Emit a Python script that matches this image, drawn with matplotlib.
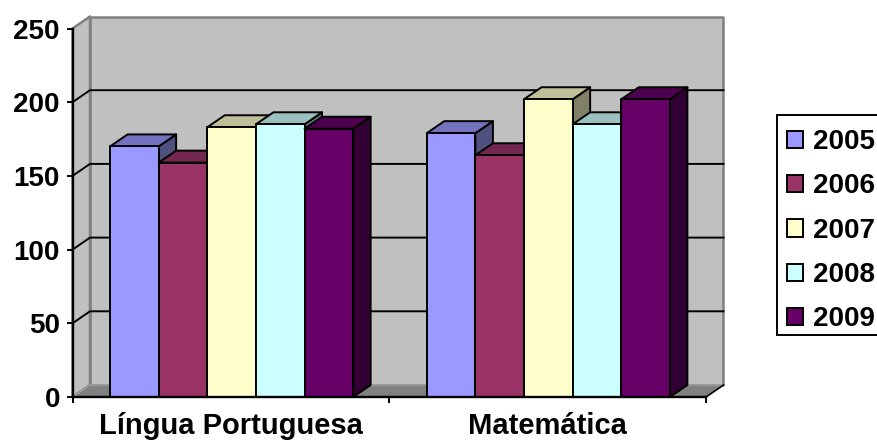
import matplotlib
matplotlib.use("Agg")
import matplotlib.pyplot as plt
from matplotlib.patches import Patch, Polygon, Rectangle

plt.rcParams["font.family"] = "Liberation Sans"
plt.rcParams["font.weight"] = "bold"

### data
categories = ["Língua Portuguesa", "Matemática"]
years = ["2005", "2006", "2007", "2008", "2009"]
portugues = [170, 159, 183, 185, 182]
matematica = [179, 164, 202, 185, 202]
yticks = [0, 50, 100, 150, 200, 250]

front = ["#9999FF", "#993366", "#FFFFCC", "#CCFFFF", "#660066"]
top = ["#7373BF", "#732650", "#BFBF99", "#99BFBF", "#4D004D"]
side = ["#515180", "#4D1933", "#808066", "#668080", "#330033"]

W, H = 877, 441
fig = plt.figure(figsize=(W / 100, H / 100), dpi=100, facecolor="white")
ax = fig.add_axes([72.5 / W, (H - 397) / H, 633.5 / W, 368.5 / H])
ax.set_xlim(0, 2)
ax.set_ylim(0, 250)
ax.patch.set_visible(False)

# depth of the 3d box, in data units
dx = 17.5 / 316.75
dy = 12 / 368.5 * 250
bar_w = 0.1535
bar_start = 0.1185
edge = 1.4


def poly(pts, fc, ec, lw, z):
    ax.add_patch(Polygon(pts, closed=True, fc=fc, ec=ec, lw=lw, zorder=z,
                         clip_on=False, joinstyle="round"))


### walls and floor
poly([(dx, dy), (2 + dx, dy), (2 + dx, 250 + dy), (dx, 250 + dy)], "#C0C0C0", "#808080", 1.8, 1)
poly([(0, 0), (dx, dy), (dx, 250 + dy), (0, 250)], "#C0C0C0", "#808080", 1.8, 1)
poly([(0, 0), (2, 0), (2 + dx, dy), (dx, dy)], "#808080", "#A0A0A0", 1.0, 1.5)
ax.plot([2, 2 + dx], [0, dy], color="black", lw=1.2, zorder=1.6, clip_on=False)

# gridlines run along the left wall and then across the back wall
for v in yticks[1:-1]:
    ax.plot([0, dx, 2 + dx], [v, v + dy, v + dy], color="black", lw=1.4, zorder=2,
            clip_on=False)

### bars, left to right so each one overlaps the side of the previous
z = 3
for c, values in enumerate([portugues, matematica]):
    for i, v in enumerate(values):
        x0 = c + bar_start + i * bar_w
        x1 = x0 + bar_w
        poly([(x1, 0), (x1 + dx, dy), (x1 + dx, v + dy), (x1, v)], side[i], "black", edge, z)
        poly([(x0, v), (x1, v), (x1 + dx, v + dy), (x0 + dx, v + dy)], top[i], "black", edge, z)
        poly([(x0, 0), (x1, 0), (x1, v), (x0, v)], front[i], "black", edge, z)
        z += 1

### axes
for s in ["top", "right"]:
    ax.spines[s].set_visible(False)
for s in ["left", "bottom"]:
    ax.spines[s].set_linewidth(1.7)
    ax.spines[s].set_zorder(30)
ax.set_yticks(yticks)
ax.set_yticklabels([str(t) for t in yticks], fontsize=20, fontweight="bold")
ax.tick_params(axis="y", length=4, width=1.4, pad=5)
ax.set_xticks([0, 1, 2])
ax.set_xticklabels([])
ax.tick_params(axis="x", which="major", length=4, width=1.4)
ax.set_xticks([0.5, 1.5], minor=True)
ax.set_xticklabels(categories, minor=True, fontsize=21, fontweight="bold")
ax.tick_params(axis="x", which="minor", length=0, pad=11)

### legend box runs off the right edge of the figure
fig.add_artist(Rectangle((777 / W, (H - 335) / H), 110 / W, 220 / H, transform=fig.transFigure,
                         fc="white", ec="black", lw=1.4))
handles = [Patch(fc=front[i], ec="black", lw=1.4, label=years[i]) for i in range(len(years))]
leg = fig.legend(handles=handles, loc="upper left", bbox_to_anchor=(787 / W, (H - 129) / H),
                 prop={"size": 20, "weight": "bold"}, frameon=False,
                 borderaxespad=0, borderpad=0, handlelength=0.58,
                 handleheight=0.58, handletextpad=0.36, labelspacing=0.66)

fig.savefig("out.png", dpi=100)
